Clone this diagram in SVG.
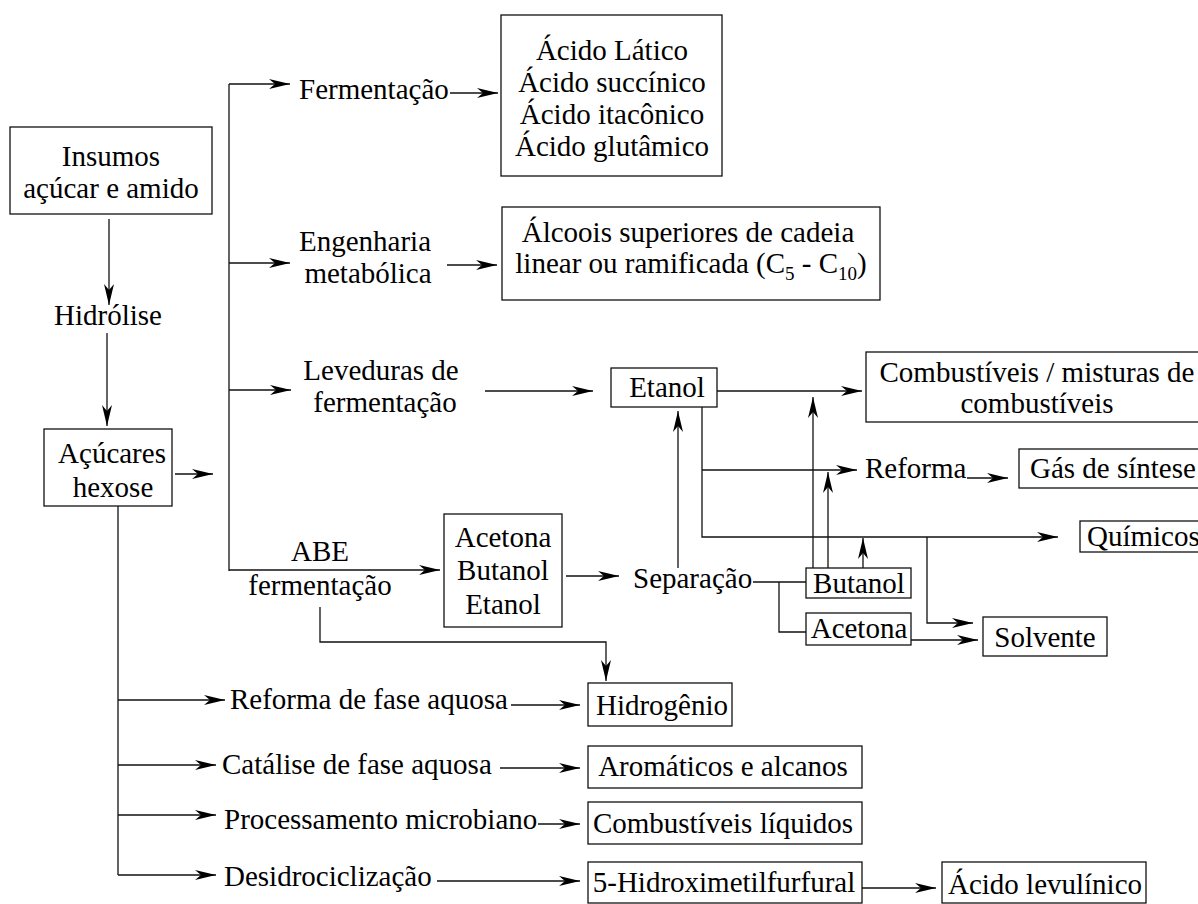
<svg xmlns="http://www.w3.org/2000/svg" width="1198" height="904" viewBox="0 0 1198 904" font-family="'Liberation Serif', 'Times New Roman', 'DejaVu Serif', serif">
  <style>
    text { font-family: 'Liberation Serif', 'Times New Roman', 'DejaVu Serif', serif; font-size: 29px; fill: #000; }
    .mid { text-anchor: middle; }
    .sub { font-size: 19px; }
    .box { fill: #fff; stroke: #111; stroke-width: 1.3; }
    .wire { fill: none; stroke: #111; stroke-width: 1.3; }
  </style>
  <defs>
    <marker id="arrow" markerUnits="userSpaceOnUse" markerWidth="24" markerHeight="12" refX="21" refY="5" orient="auto">
      <path d="M0,0 L21,5 L0,10 L6,5 Z" fill="#000"/>
    </marker>
  </defs>

  <rect width="1198" height="904" fill="#fff"/>

  <!-- connectors -->
  <g id="connectors" class="wire">
    <path d="M109,219 V305" marker-end="url(#arrow)"/>
    <path d="M107,333 V426" marker-end="url(#arrow)"/>
    <path d="M175,474 H213" marker-end="url(#arrow)"/>
    <path d="M229,84 V571"/>
    <path d="M229,84 H290" marker-end="url(#arrow)"/>
    <path d="M450,93 H498" marker-end="url(#arrow)"/>
    <path d="M229,263 H290" marker-end="url(#arrow)"/>
    <path d="M447,265 H497" marker-end="url(#arrow)"/>
    <path d="M229,390 H291" marker-end="url(#arrow)"/>
    <path d="M485,391 H593" marker-end="url(#arrow)"/>
    <path d="M229,570 H440" marker-end="url(#arrow)"/>
    <path d="M566,576 H619" marker-end="url(#arrow)"/>
    <path d="M320,607 V642 H606 V681" marker-end="url(#arrow)"/>
    <path d="M753,582 H806"/>
    <path d="M779,582 V632 H806"/>
    <path d="M678,568 V411" marker-end="url(#arrow)"/>
    <path d="M717,391 H862" marker-end="url(#arrow)"/>
    <path d="M702,407 V537 H1058" marker-end="url(#arrow)"/>
    <path d="M702,470 H857" marker-end="url(#arrow)"/>
    <path d="M967,478 H1008" marker-end="url(#arrow)"/>
    <path d="M813,568 V397" marker-end="url(#arrow)"/>
    <path d="M828,568 V472" marker-end="url(#arrow)"/>
    <path d="M863,568 V538" marker-end="url(#arrow)"/>
    <path d="M927,537 V623 H973" marker-end="url(#arrow)"/>
    <path d="M911,640 H978" marker-end="url(#arrow)"/>
    <path d="M118,506 V875"/>
    <path d="M118,700 H225" marker-end="url(#arrow)"/>
    <path d="M118,765 H216" marker-end="url(#arrow)"/>
    <path d="M118,815 H216" marker-end="url(#arrow)"/>
    <path d="M118,875 H216" marker-end="url(#arrow)"/>
    <path d="M511,705 H580" marker-end="url(#arrow)"/>
    <path d="M500,768 H580" marker-end="url(#arrow)"/>
    <path d="M538,824 H580" marker-end="url(#arrow)"/>
    <path d="M437,881 H580" marker-end="url(#arrow)"/>
    <path d="M862,888 H936" marker-end="url(#arrow)"/>
  </g>

  <!-- feedstock and hydrolysis -->
  <g id="insumos">
    <rect class="box" x="10" y="127" width="202" height="87"/>
    <text class="mid" x="111" y="166">Insumos</text>
    <text class="mid" x="111" y="198">açúcar e amido</text>
  </g>
  <g id="hidrolise">
    <text class="mid" x="108" y="325">Hidrólise</text>
  </g>
  <g id="acucares">
    <rect class="box" x="44" y="429" width="128" height="77"/>
    <text class="mid" x="112" y="463">Açúcares</text>
    <text class="mid" x="113" y="497">hexose</text>
  </g>

  <!-- fermentation branch -->
  <g id="fermentacao">
    <text x="299" y="99">Fermentação</text>
  </g>
  <g id="acidos">
    <rect class="box" x="501" y="15" width="221" height="161"/>
    <text class="mid" x="612" y="60">Ácido Lático</text>
    <text class="mid" x="612" y="92">Ácido succínico</text>
    <text class="mid" x="612" y="124">Ácido itacônico</text>
    <text class="mid" x="612" y="156">Ácido glutâmico</text>
  </g>

  <!-- metabolic engineering branch -->
  <g id="engenharia">
    <text class="mid" x="365" y="251">Engenharia</text>
    <text class="mid" x="368" y="283">metabólica</text>
  </g>
  <g id="alcoois">
    <rect class="box" x="502" y="207" width="378" height="93"/>
    <text class="mid" x="688" y="242">Álcoois superiores de cadeia</text>
    <text class="mid" x="691" y="273">linear ou ramificada (C<tspan class="sub" dy="7">5</tspan><tspan dy="-7"> - C</tspan><tspan class="sub" dy="7">10</tspan><tspan dy="-7">)</tspan></text>
  </g>

  <!-- yeast fermentation branch -->
  <g id="leveduras">
    <text class="mid" x="381" y="380">Leveduras de</text>
    <text class="mid" x="385" y="412">fermentação</text>
  </g>
  <g id="etanol">
    <rect class="box" x="611" y="368" width="106" height="39"/>
    <text class="mid" x="667" y="397">Etanol</text>
  </g>
  <g id="combustiveis">
    <rect class="box" x="866" y="352" width="341" height="70"/>
    <text class="mid" x="1037" y="382">Combustíveis / misturas de</text>
    <text class="mid" x="1037" y="413">combustíveis</text>
  </g>
  <g id="reforma">
    <text x="865" y="478">Reforma</text>
  </g>
  <g id="gas-sintese">
    <rect class="box" x="1019" y="449" width="190" height="39"/>
    <text x="1030" y="478">Gás de síntese</text>
  </g>
  <g id="quimicos">
    <rect class="box" x="1080" y="521" width="130" height="31"/>
    <text x="1087" y="546">Químicos</text>
  </g>

  <!-- ABE branch -->
  <g id="abe">
    <text class="mid" x="320" y="561">ABE</text>
    <text class="mid" x="320" y="595">fermentação</text>
  </g>
  <g id="abe-produtos">
    <rect class="box" x="444" y="514" width="118" height="113"/>
    <text class="mid" x="503" y="547">Acetona</text>
    <text class="mid" x="503" y="580">Butanol</text>
    <text class="mid" x="503" y="614">Etanol</text>
  </g>
  <g id="separacao">
    <text x="633" y="588">Separação</text>
  </g>
  <g id="butanol">
    <rect class="box" x="806" y="568" width="105" height="30"/>
    <text class="mid" x="859" y="593">Butanol</text>
  </g>
  <g id="acetona">
    <rect class="box" x="806" y="613" width="105" height="32"/>
    <text class="mid" x="859" y="638">Acetona</text>
  </g>
  <g id="solvente">
    <rect class="box" x="983" y="617" width="124" height="39"/>
    <text class="mid" x="1045" y="647">Solvente</text>
  </g>

  <!-- aqueous / catalytic routes -->
  <g id="reforma-aquosa">
    <text x="230" y="709">Reforma de fase aquosa</text>
  </g>
  <g id="hidrogenio">
    <rect class="box" x="588" y="683" width="144" height="43"/>
    <text class="mid" x="662" y="715">Hidrogênio</text>
  </g>
  <g id="catalise">
    <text x="222" y="774">Catálise de fase aquosa</text>
  </g>
  <g id="aromaticos">
    <rect class="box" x="588" y="746" width="274" height="42"/>
    <text class="mid" x="723" y="776">Aromáticos e alcanos</text>
  </g>
  <g id="processamento">
    <text x="224" y="829">Processamento microbiano</text>
  </g>
  <g id="combustiveis-liquidos">
    <rect class="box" x="588" y="802" width="274" height="42"/>
    <text class="mid" x="723" y="833">Combustíveis líquidos</text>
  </g>
  <g id="desidrociclizacao">
    <text x="224" y="886">Desidrociclização</text>
  </g>
  <g id="hmf">
    <rect class="box" x="588" y="862" width="274" height="41"/>
    <text class="mid" x="724" y="892">5-Hidroximetilfurfural</text>
  </g>
  <g id="levulinico">
    <rect class="box" x="942" y="862" width="204" height="41"/>
    <text class="mid" x="1045" y="894">Ácido levulínico</text>
  </g>
</svg>
